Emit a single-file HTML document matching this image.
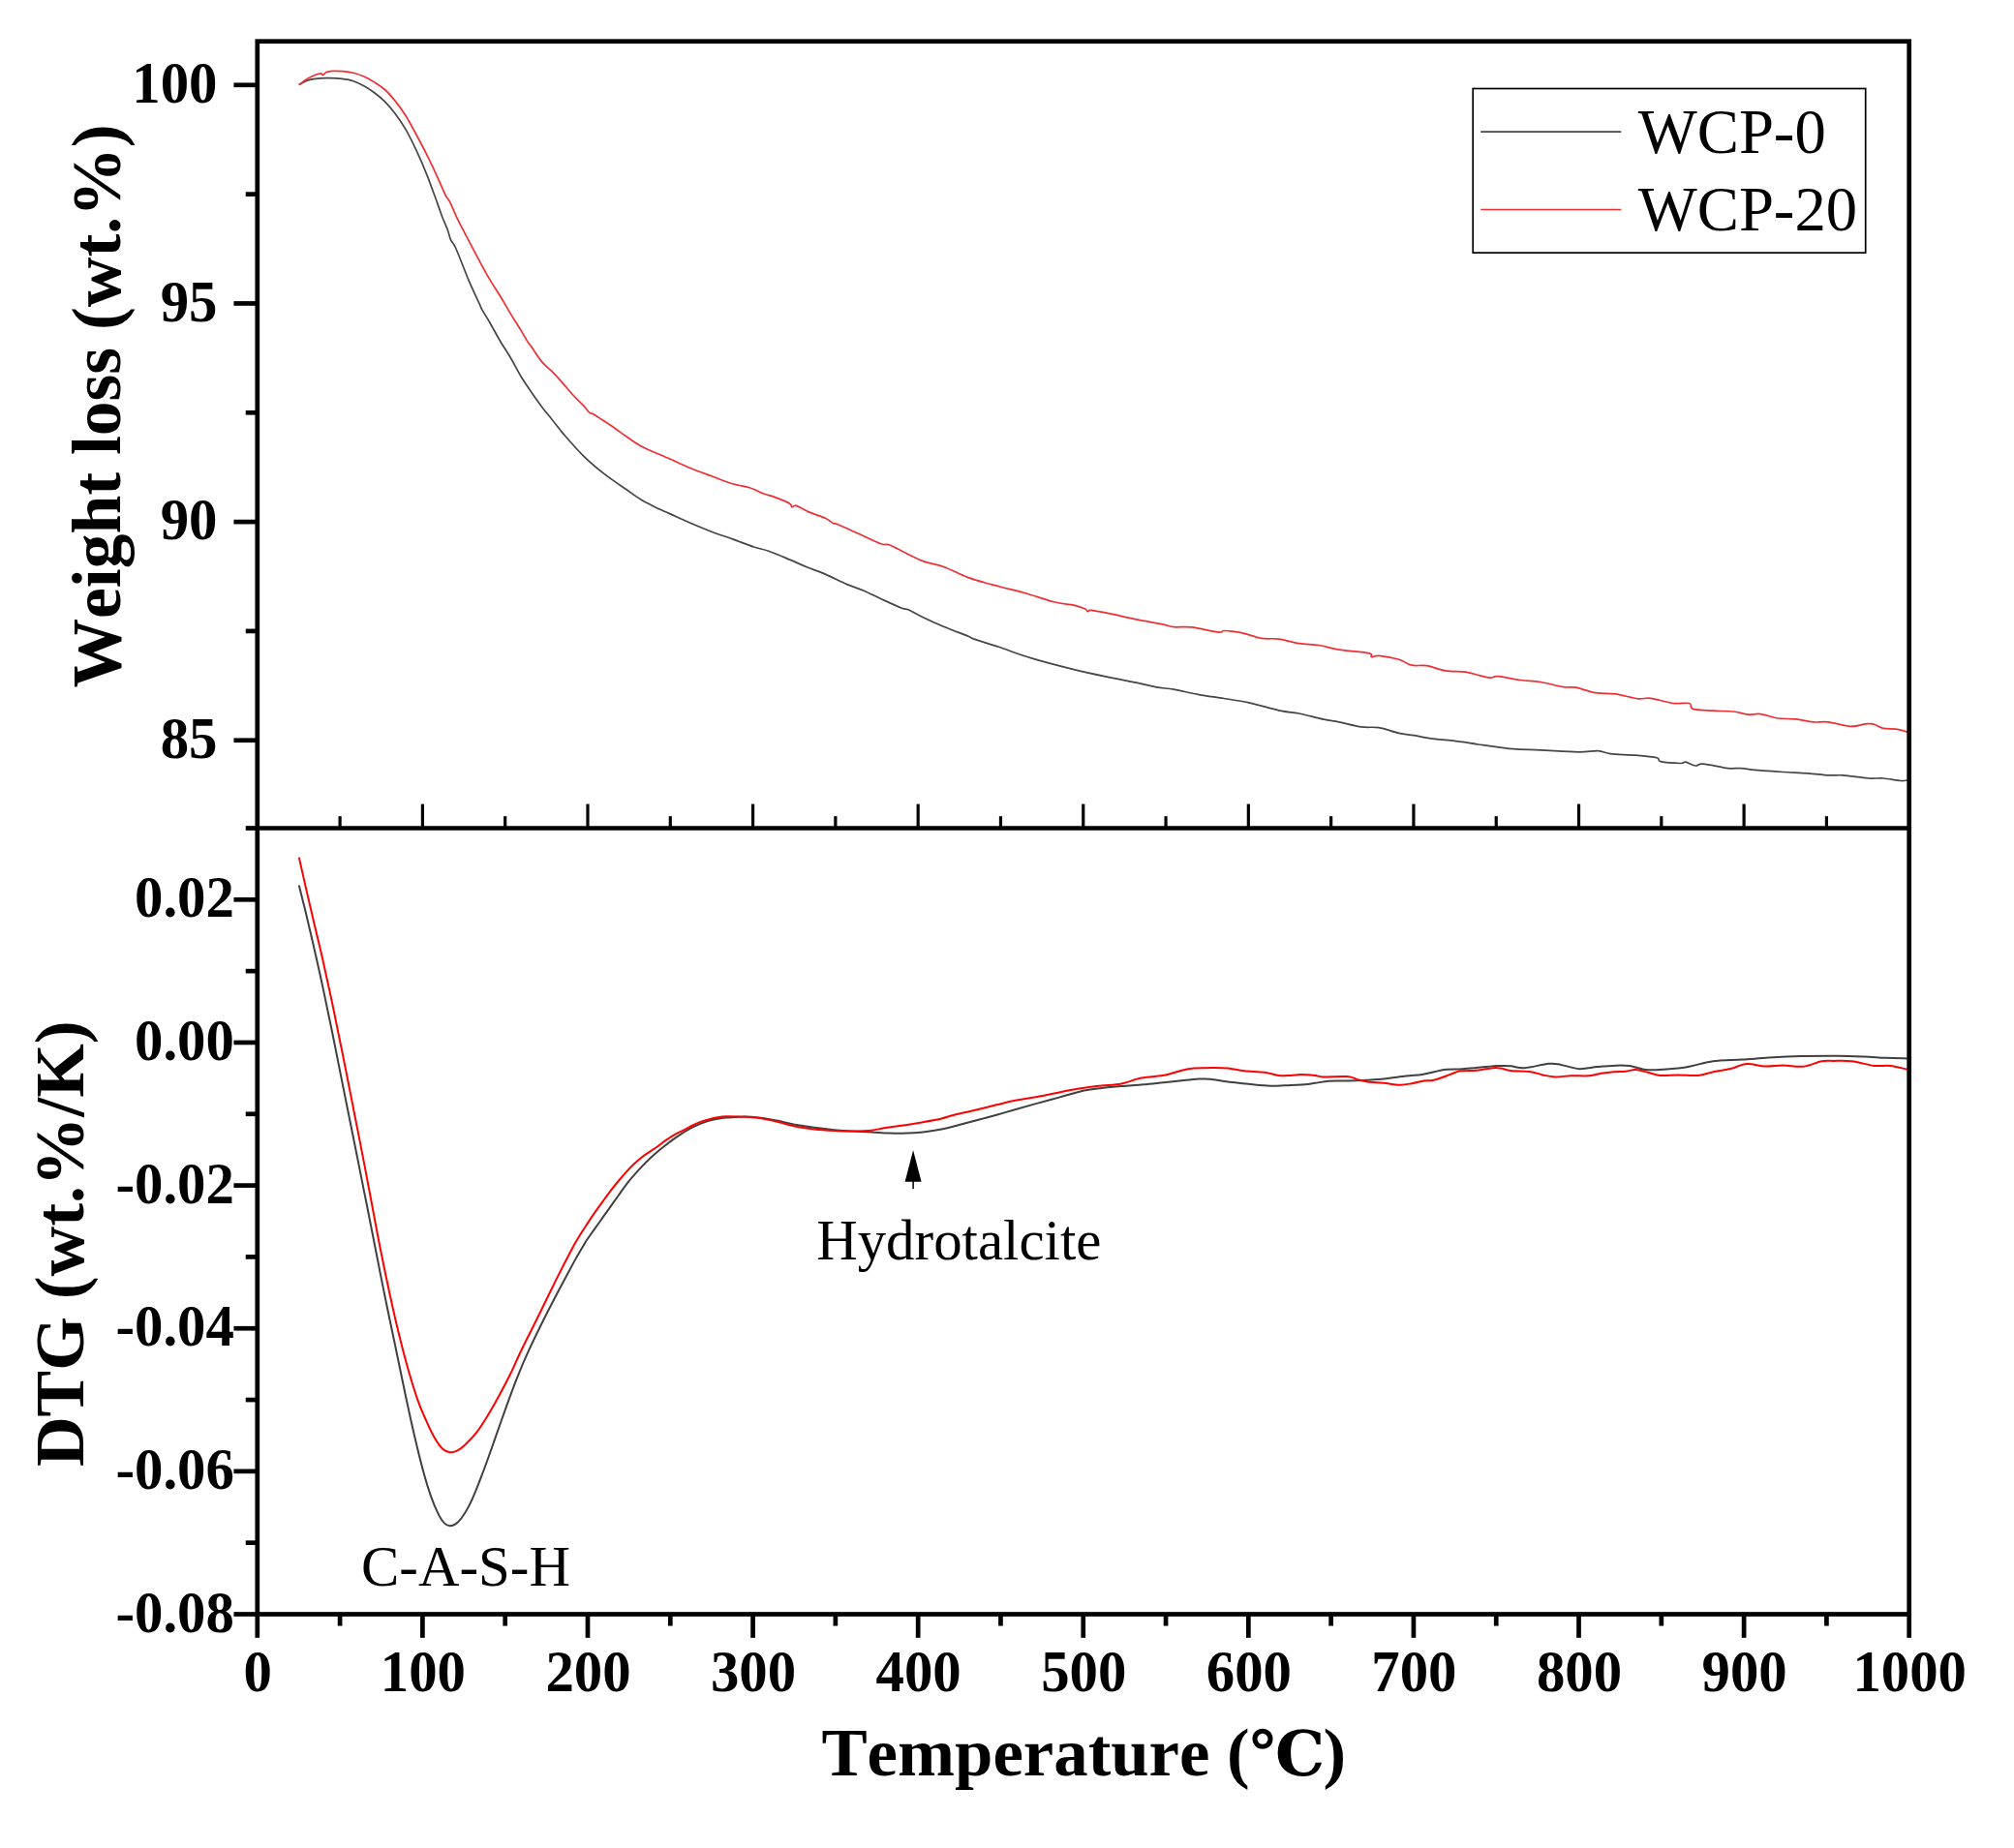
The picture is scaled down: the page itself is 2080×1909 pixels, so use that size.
<!DOCTYPE html>
<html lang="en">
<head>
<meta charset="utf-8">
<title>TG / DTG curves of WCP-0 and WCP-20</title>
<style>
html,body{margin:0;padding:0;background:#fff;}
body{width:2080px;height:1909px;overflow:hidden;font-family:"Liberation Serif",serif;}
svg{display:block;}
svg text{font-kerning:none;font-variant-ligatures:none;white-space:pre;}
</style>
</head>
<body>
<svg width="2080" height="1909" viewBox="0 0 2080 1909" role="img" aria-label="TG (weight loss) and DTG curves of WCP-0 and WCP-20 versus temperature">
<rect x="0" y="0" width="2080" height="1909" fill="#fff"/>
<g id="curves">
<path d="M308.7,87.5C310.13,86.78 314.42,84.22 317.3,83.2C320.18,82.18 322.75,81.83 326,81.4C329.25,80.97 333.2,80.7 336.8,80.6C340.4,80.5 344,80.55 347.6,80.8C351.2,81.05 355.52,81.6 358.4,82.1C361.28,82.6 362,82.68 364.9,83.8C367.8,84.92 372.18,86.82 375.8,88.8C379.42,90.78 383,93.03 386.6,95.7C390.2,98.37 393.8,101.18 397.4,104.8C401,108.42 404.6,112.6 408.2,117.4C411.8,122.2 415.38,127.3 419,133.6C422.62,139.9 426.28,147.45 429.9,155.2C433.52,162.95 437.1,171.07 440.7,180.1C444.3,189.13 448.8,202 451.5,209.4C454.2,216.8 455.1,219.82 456.9,224.5C458.7,229.18 460.85,233.6 462.3,237.5C463.75,241.4 464.15,244.65 465.6,247.9C467.05,251.15 467.93,250.08 471,257C474.07,263.92 480.03,280.03 484,289.4C487.97,298.77 492.45,308.03 494.8,313.2C497.15,318.37 496.3,317.15 498.1,320.4C499.9,323.65 502.53,327.4 505.6,332.7C508.67,338 512.88,346.07 516.5,352.2C520.12,358.33 523.7,363.37 527.3,369.5C530.9,375.63 534.5,383.05 538.1,389C541.7,394.95 545.3,399.97 548.9,405.2C552.5,410.43 556.08,415.6 559.7,420.4C563.32,425.2 566.92,429.38 570.6,434C574.28,438.62 576.28,441.75 581.8,448.1C587.32,454.45 596.42,465 603.7,472.1C610.98,479.2 618.22,485.05 625.5,490.7C632.78,496.35 641.2,501.7 647.4,506C653.6,510.3 657.23,513.23 662.7,516.5C668.17,519.77 675.47,523.28 680.2,525.6C684.93,527.92 685.65,527.95 691.1,530.4C696.55,532.85 705.62,537.17 712.9,540.3C720.18,543.43 727.52,546.43 734.8,549.2C742.08,551.97 749.32,554.27 756.6,556.9C763.88,559.53 772.3,562.93 778.5,565C784.7,567.07 787.62,567.12 793.8,569.3C799.98,571.48 809.05,575.37 815.6,578.1C822.15,580.83 826.9,583.15 833.1,585.7C839.3,588.25 845.88,590.42 852.8,593.4C859.72,596.38 868.05,600.8 874.6,603.6C881.15,606.4 886.27,607.72 892.1,610.2C897.93,612.68 903.05,615.48 909.6,618.5C916.15,621.52 926.67,626.42 931.4,628.3C936.13,630.18 934.35,628.23 938,629.8C941.65,631.37 947.12,634.75 953.3,637.7C959.48,640.65 967.32,644.25 975.1,647.5C982.88,650.75 994.88,655.1 1000,657.2C1005.12,659.3 1000.53,658.25 1005.8,660.1C1011.07,661.95 1021.7,665 1031.6,668.3C1041.5,671.6 1052.28,676.02 1065.2,679.9C1078.12,683.78 1095.33,688.23 1109.1,691.6C1122.87,694.97 1137.05,697.83 1147.8,700.1C1158.55,702.37 1165.85,703.57 1173.6,705.2C1181.35,706.83 1187.83,708.73 1194.3,709.9C1200.77,711.07 1205.08,710.92 1212.4,712.2C1219.72,713.48 1229.6,716.05 1238.2,717.6C1246.8,719.15 1255.4,720.12 1264,721.5C1272.6,722.88 1279.9,723.75 1289.8,725.9C1299.7,728.05 1314.78,732.55 1323.4,734.4C1332.02,736.25 1334.18,735.53 1341.5,737C1348.82,738.47 1360.42,741.73 1367.3,743.2C1374.18,744.67 1376.35,744.52 1382.8,745.8C1389.25,747.08 1399.12,749.92 1406,750.9C1412.88,751.88 1417.63,750.62 1424.1,751.7C1430.57,752.78 1438.77,756.07 1444.8,757.4C1450.83,758.73 1454.43,758.73 1460.3,759.7C1466.17,760.67 1473.27,762.28 1480,763.2C1486.73,764.12 1492.1,764.13 1500.7,765.2C1509.3,766.27 1521.28,768.18 1531.6,769.6C1541.92,771.02 1552.7,772.83 1562.6,773.7C1572.5,774.57 1579.8,774.28 1591,774.8C1602.2,775.32 1619.9,776.67 1629.8,776.8C1639.7,776.93 1644.82,775.28 1650.4,775.6C1655.98,775.92 1656.85,777.93 1663.3,778.7C1669.75,779.47 1681.13,779.52 1689.1,780.2C1697.07,780.88 1706.78,781.72 1711.1,782.8C1715.42,783.88 1710.92,785.75 1715,786.7C1719.08,787.65 1731.3,788.42 1735.6,788.5C1739.9,788.58 1738.22,786.78 1740.8,787.2C1743.38,787.62 1748.08,790.67 1751.1,791C1754.12,791.33 1753.3,788.77 1758.9,789.2C1764.5,789.63 1778.25,792.87 1784.7,793.6C1791.15,794.33 1792.43,793.25 1797.6,793.6C1802.77,793.95 1808.38,795.05 1815.7,795.7C1823.02,796.35 1832.9,796.98 1841.5,797.5C1850.1,798.02 1859.57,798.23 1867.3,798.8C1875.03,799.37 1881.88,800.55 1887.9,800.9C1893.92,801.25 1896.5,800.38 1903.4,800.9C1910.3,801.42 1922.4,803.48 1929.3,804C1936.2,804.52 1939.22,803.58 1944.8,804C1950.38,804.42 1958.5,806.2 1962.8,806.5C1967.1,806.8 1969.3,805.92 1970.6,805.8" fill="none" stroke="#464646" stroke-width="1.7" stroke-linejoin="round" stroke-linecap="butt"/>
<path d="M308.7,87.5C310.13,86.52 314.42,83.3 317.3,81.6C320.18,79.9 323.65,78.27 326,77.3C328.35,76.33 330.15,75.73 331.4,75.8C332.65,75.87 332.6,77.88 333.5,77.7C334.4,77.52 335.17,75.42 336.8,74.7C338.43,73.98 340.42,73.58 343.3,73.4C346.18,73.22 350.5,73.3 354.1,73.6C357.7,73.9 361.28,74.3 364.9,75.2C368.52,76.1 372.18,77.38 375.8,79C379.42,80.62 383,82.65 386.6,84.9C390.2,87.15 393.8,89.25 397.4,92.5C401,95.75 404.6,99.9 408.2,104.4C411.8,108.9 415.38,113.73 419,119.5C422.62,125.27 426.28,132.32 429.9,139C433.52,145.68 437.1,152.38 440.7,159.6C444.3,166.82 448.25,175.27 451.5,182.3C454.75,189.33 458.03,197.47 460.2,201.8C462.37,206.13 462.33,203.98 464.5,208.3C466.67,212.62 469.95,221.03 473.2,227.7C476.45,234.37 480.4,241.43 484,248.3C487.6,255.17 491.2,262.22 494.8,268.9C498.4,275.58 501.98,282.27 505.6,288.4C509.22,294.53 512.88,299.75 516.5,305.7C520.12,311.65 523.7,318.15 527.3,324.1C530.9,330.05 535.22,336.65 538.1,341.4C540.98,346.15 542.8,349.78 544.6,352.6C546.4,355.42 546.38,354.75 548.9,358.3C551.42,361.85 556.08,369.58 559.7,373.9C563.32,378.22 566.98,380.5 570.6,384.2C574.22,387.9 577.8,392.05 581.4,396.1C585,400.15 588.6,404.63 592.2,408.5C595.8,412.37 600.3,416.42 603,419.3C605.7,422.18 606.58,424.28 608.4,425.8C610.22,427.32 611.18,426.78 613.9,428.4C616.62,430.02 621.1,433.12 624.7,435.5C628.3,437.88 631.72,440.07 635.5,442.7C639.28,445.33 642.87,448.22 647.4,451.3C651.93,454.38 655.42,457.45 662.7,461.2C669.98,464.95 682.73,470.08 691.1,473.8C699.47,477.52 705.62,480.5 712.9,483.5C720.18,486.5 727.52,489.08 734.8,491.8C742.08,494.52 750.05,497.8 756.6,499.8C763.15,501.8 768.63,502.05 774.1,503.8C779.57,505.55 785.03,508.67 789.4,510.3C793.77,511.93 795.93,511.95 800.3,513.6C804.67,515.25 812.68,518.48 815.6,520.2C818.52,521.92 816.7,523.53 817.8,523.9C818.9,524.27 819.28,521.57 822.2,522.4C825.12,523.23 830.2,526.72 835.3,528.9C840.4,531.08 848.62,533.57 852.8,535.5C856.98,537.43 858.22,539.42 860.4,540.5C862.58,541.58 861.35,540.12 865.9,542C870.45,543.88 880.42,548.52 887.7,551.8C894.98,555.08 904.5,559.87 909.6,561.7C914.7,563.53 914.67,561.53 918.3,562.8C921.93,564.07 925.57,566.5 931.4,569.3C937.23,572.1 946.02,576.87 953.3,579.6C960.58,582.33 967.32,582.87 975.1,585.7C982.88,588.53 990.58,593.25 1000,596.6C1009.42,599.95 1022.02,603.18 1031.6,605.8C1041.18,608.42 1048.03,609.63 1057.5,612.3C1066.97,614.97 1079.8,619.65 1088.4,621.8C1097,623.95 1103.72,623.98 1109.1,625.2C1114.48,626.42 1118.33,628.02 1120.7,629.1C1123.07,630.18 1122.22,631.48 1123.3,631.7C1124.38,631.92 1123.12,629.98 1127.2,630.4C1131.28,630.82 1140.07,632.62 1147.8,634.2C1155.53,635.78 1164.98,638.17 1173.6,639.9C1182.22,641.63 1193.03,643.3 1199.5,644.6C1205.97,645.9 1207.23,647.15 1212.4,647.7C1217.57,648.25 1222.75,647 1230.5,647.9C1238.25,648.8 1253.32,652.5 1258.9,653.1C1264.48,653.7 1260.13,651.42 1264,651.5C1267.87,651.58 1275.65,652.3 1282.1,653.6C1288.55,654.9 1296.25,658.22 1302.7,659.3C1309.15,660.38 1314.33,659.2 1320.8,660.1C1327.27,661 1334.62,663.63 1341.5,664.7C1348.38,665.77 1355.22,665.42 1362.1,666.5C1368.98,667.58 1374.18,669.82 1382.8,671.2C1391.42,672.58 1408.2,673.55 1413.8,674.8C1419.4,676.05 1414.68,678.27 1416.4,678.7C1418.12,679.13 1419.37,676.98 1424.1,677.4C1428.83,677.82 1439.2,679.57 1444.8,681.2C1450.4,682.83 1452.97,686.12 1457.7,687.2C1462.43,688.28 1467.33,686.75 1473.2,687.7C1479.07,688.65 1486.17,691.82 1492.9,692.9C1499.63,693.98 1507.57,693.33 1513.6,694.2C1519.63,695.07 1524.8,697.1 1529.1,698.1C1533.4,699.1 1536.4,700.12 1539.4,700.2C1542.4,700.28 1541.93,698.22 1547.1,698.6C1552.27,698.98 1563.08,701.52 1570.4,702.5C1577.72,703.48 1583.68,703.3 1591,704.5C1598.32,705.7 1608.27,708.75 1614.3,709.7C1620.33,710.65 1621.62,709.2 1627.2,710.2C1632.78,711.2 1640.92,714.58 1647.8,715.7C1654.68,716.82 1661.18,715.88 1668.5,716.9C1675.82,717.92 1685.68,721.07 1691.7,721.8C1697.72,722.53 1698.57,720.52 1704.6,721.3C1710.63,722.08 1721.22,725.63 1727.9,726.5C1734.58,727.37 1741.27,725.52 1744.7,726.5C1748.13,727.48 1744.42,731.12 1748.5,732.4C1752.58,733.68 1762.32,733.77 1769.2,734.2C1776.08,734.63 1783.78,734.35 1789.8,735C1795.82,735.65 1800.57,737.67 1805.3,738.1C1810.03,738.53 1813.03,736.95 1818.2,737.6C1823.37,738.25 1830.27,741.13 1836.3,742C1842.33,742.87 1848.37,742.15 1854.4,742.8C1860.43,743.45 1866.92,745.38 1872.5,745.9C1878.08,746.42 1881.45,745.17 1887.9,745.9C1894.35,746.63 1904.73,749.97 1911.2,750.3C1917.67,750.63 1922.83,748.3 1926.7,747.9C1930.57,747.5 1931.38,747.17 1934.4,747.9C1937.42,748.63 1940.92,751.43 1944.8,752.3C1948.68,753.17 1953.4,752.45 1957.7,753.1C1962,753.75 1968.45,755.68 1970.6,756.2" fill="none" stroke="#ee3035" stroke-width="1.7" stroke-linejoin="round" stroke-linecap="butt"/>
<path d="M308.8,914.4C310,919.27 313.37,932.6 316,943.6C318.63,954.6 321.72,967.77 324.6,980.4C327.48,993.03 330.05,1004.25 333.3,1019.4C336.55,1034.55 340.5,1053.63 344.1,1071.3C347.7,1088.97 351.28,1107.37 354.9,1125.4C358.52,1143.43 362.18,1161.47 365.8,1179.5C369.42,1197.53 374.25,1221.85 376.6,1233.6C378.95,1245.35 377.88,1239.8 379.9,1250C381.92,1260.2 385.62,1279.22 388.7,1294.8C391.78,1310.38 395.15,1327.58 398.4,1343.5C401.65,1359.42 404.95,1374.72 408.2,1390.3C411.45,1405.88 414.65,1421.75 417.9,1437C421.15,1452.25 424.45,1467.83 427.7,1481.8C430.95,1495.77 434.48,1510.08 437.4,1520.8C440.32,1531.52 442.6,1538.8 445.2,1546.1C447.8,1553.4 450.73,1560.05 453,1564.6C455.27,1569.15 456.85,1571.45 458.8,1573.4C460.75,1575.35 462.75,1576.13 464.7,1576.3C466.65,1576.47 468.55,1575.7 470.5,1574.4C472.45,1573.1 474.12,1571.58 476.4,1568.5C478.68,1565.42 481.6,1560.93 484.2,1555.9C486.8,1550.87 489.08,1545.45 492,1538.3C494.92,1531.15 498.47,1521.77 501.7,1513C504.93,1504.23 507.83,1495.77 511.4,1485.7C514.97,1475.63 519.2,1463.32 523.1,1452.6C527,1441.88 530.9,1431.13 534.8,1421.4C538.7,1411.67 541.95,1404.1 546.5,1394.2C551.05,1384.3 556.9,1372.4 562.1,1362C567.3,1351.6 572.5,1341.7 577.7,1331.8C582.9,1321.9 589.48,1309.57 593.3,1302.6C597.12,1295.63 598.45,1293.63 600.6,1290C602.75,1286.37 603.9,1284.28 606.2,1280.8C608.5,1277.32 611.68,1272.95 614.4,1269.1C617.12,1265.25 619.8,1261.5 622.5,1257.7C625.2,1253.9 627.9,1250.08 630.6,1246.3C633.3,1242.52 636,1238.78 638.7,1235C641.4,1231.22 644.1,1227.12 646.8,1223.6C649.5,1220.08 652.18,1217.02 654.9,1213.9C657.62,1210.78 660.38,1207.75 663.1,1204.9C665.82,1202.05 668.5,1199.37 671.2,1196.8C673.9,1194.23 676.6,1191.8 679.3,1189.5C682,1187.2 684.7,1185.1 687.4,1183C690.1,1180.9 692.8,1178.85 695.5,1176.9C698.2,1174.95 700.88,1173.05 703.6,1171.3C706.32,1169.55 709.08,1167.9 711.8,1166.4C714.52,1164.9 717.2,1163.52 719.9,1162.3C722.6,1161.08 725.3,1160.02 728,1159.1C730.7,1158.18 733.4,1157.43 736.1,1156.8C738.8,1156.17 741.88,1155.67 744.2,1155.3C746.52,1154.93 745.97,1154.9 750,1154.6C754.03,1154.3 762.75,1153.52 768.4,1153.5C774.05,1153.48 778.3,1153.82 783.9,1154.5C789.5,1155.18 795.53,1156.35 802,1157.6C808.47,1158.85 816.25,1160.8 822.7,1162C829.15,1163.2 834.25,1163.93 840.7,1164.8C847.15,1165.67 854.93,1166.6 861.4,1167.2C867.87,1167.8 873.05,1168.02 879.5,1168.4C885.95,1168.78 893.65,1169.15 900.1,1169.5C906.55,1169.85 913.03,1170.28 918.2,1170.5C923.37,1170.72 926.8,1170.83 931.1,1170.8C935.4,1170.77 939.7,1170.6 944,1170.3C948.3,1170 952.17,1169.65 956.9,1169C961.63,1168.35 966.8,1167.57 972.4,1166.4C978,1165.23 984.47,1163.52 990.5,1162C996.53,1160.48 1002.15,1159.02 1008.6,1157.3C1015.05,1155.58 1022.75,1153.5 1029.2,1151.7C1035.65,1149.9 1040.83,1148.35 1047.3,1146.5C1053.77,1144.65 1060.25,1142.75 1068,1140.6C1075.75,1138.45 1085.2,1135.93 1093.8,1133.6C1102.4,1131.27 1112.28,1128.2 1119.6,1126.6C1126.92,1125 1131.25,1124.77 1137.7,1124C1144.15,1123.23 1151.1,1122.62 1158.3,1122C1165.5,1121.38 1173.67,1120.93 1180.9,1120.3C1188.13,1119.67 1194.75,1118.9 1201.7,1118.2C1208.65,1117.5 1216.35,1116.72 1222.6,1116.1C1228.85,1115.48 1234.68,1114.73 1239.2,1114.5C1243.72,1114.27 1244.83,1114.18 1249.7,1114.7C1254.57,1115.22 1261.8,1116.77 1268.4,1117.6C1275,1118.43 1283.03,1119.08 1289.3,1119.7C1295.57,1120.32 1301.48,1120.95 1306,1121.3C1310.52,1121.65 1311.88,1121.87 1316.4,1121.8C1320.92,1121.73 1327.88,1121.15 1333.1,1120.9C1338.32,1120.65 1343.53,1120.65 1347.7,1120.3C1351.87,1119.95 1353.93,1119.4 1358.1,1118.8C1362.27,1118.2 1367.48,1117.08 1372.7,1116.7C1377.92,1116.32 1383.83,1116.6 1389.4,1116.5C1394.97,1116.4 1399.5,1116.43 1406.1,1116.1C1412.7,1115.77 1421.35,1115.27 1429,1114.5C1436.65,1113.73 1445.38,1112.27 1452,1111.5C1458.62,1110.73 1463.83,1110.62 1468.7,1109.9C1473.57,1109.18 1477.03,1108.07 1481.2,1107.2C1485.37,1106.33 1488.83,1105.2 1493.7,1104.7C1498.57,1104.2 1504.5,1104.55 1510.4,1104.2C1516.3,1103.85 1522.85,1103.12 1529.1,1102.6C1535.35,1102.08 1542.68,1101.32 1547.9,1101.1C1553.12,1100.88 1555.95,1100.95 1560.4,1101.3C1564.85,1101.65 1568.07,1103.62 1574.6,1103.2C1581.13,1102.78 1593.35,1099.35 1599.6,1098.8C1605.85,1098.25 1606.88,1099 1612.1,1099.9C1617.32,1100.8 1624.63,1103.83 1630.9,1104.2C1637.17,1104.57 1643.45,1102.68 1649.7,1102.1C1655.95,1101.52 1662.85,1100.87 1668.4,1100.7C1673.95,1100.53 1678.13,1100.43 1683,1101.1C1687.87,1101.77 1693.07,1104 1697.6,1104.7C1702.13,1105.4 1704.28,1105.48 1710.2,1105.3C1716.12,1105.12 1726.85,1104.3 1733.1,1103.6C1739.35,1102.9 1742.83,1102.13 1747.7,1101.1C1752.57,1100.07 1757.43,1098.33 1762.3,1097.4C1767.17,1096.47 1770.65,1095.97 1776.9,1095.5C1783.15,1095.03 1791.47,1095.08 1799.8,1094.6C1808.13,1094.12 1816.82,1093.18 1826.9,1092.6C1836.98,1092.02 1848.47,1091.42 1860.3,1091.1C1872.13,1090.78 1887.12,1090.63 1897.9,1090.7C1908.68,1090.77 1916.67,1091.15 1925,1091.5C1933.33,1091.85 1940.43,1092.48 1947.9,1092.8C1955.37,1093.12 1966.15,1093.3 1969.8,1093.4" fill="none" stroke="#404040" stroke-width="2.0" stroke-linejoin="round" stroke-linecap="butt"/>
<path d="M308.8,885.6C310,890.93 313.37,906.13 316,917.6C318.63,929.07 321.72,942.13 324.6,954.4C327.48,966.67 330.05,976.77 333.3,991.2C336.55,1005.63 340.5,1023.87 344.1,1041C347.7,1058.13 351.28,1075.97 354.9,1094C358.52,1112.03 362.18,1130.8 365.8,1149.2C369.42,1167.6 373.37,1187.6 376.6,1204.4C379.83,1221.2 382.53,1235.9 385.2,1250C387.87,1264.1 389.75,1274.72 392.6,1289C395.45,1303.28 399.05,1320.77 402.3,1335.7C405.55,1350.63 408.85,1365.28 412.1,1378.6C415.35,1391.92 418.55,1404.23 421.8,1415.6C425.05,1426.97 428.35,1437.72 431.6,1446.8C434.85,1455.88 438.38,1463.62 441.3,1470.1C444.22,1476.58 446.5,1481.32 449.1,1485.7C451.7,1490.08 454.3,1493.97 456.9,1496.4C459.5,1498.83 462.1,1499.97 464.7,1500.3C467.3,1500.63 469.9,1499.7 472.5,1498.4C475.1,1497.1 477.05,1495.58 480.3,1492.5C483.55,1489.42 488.12,1484.92 492,1479.9C495.88,1474.88 499.72,1468.73 503.6,1462.4C507.48,1456.07 511.4,1449.05 515.3,1441.9C519.2,1434.75 523.1,1427.45 527,1419.5C530.9,1411.55 534.15,1403.62 538.7,1394.2C543.25,1384.78 548.45,1374.85 554.3,1363C560.15,1351.15 567.72,1335.27 573.8,1323.1C579.88,1310.93 586.75,1297.65 590.8,1290C594.85,1282.35 595.53,1281.43 598.1,1277.2C600.67,1272.97 603.48,1268.73 606.2,1264.6C608.92,1260.47 611.68,1256.32 614.4,1252.4C617.12,1248.48 619.8,1244.82 622.5,1241.1C625.2,1237.38 627.9,1233.62 630.6,1230.1C633.3,1226.58 636,1223.25 638.7,1220C641.4,1216.75 644.1,1213.55 646.8,1210.6C649.5,1207.65 652.18,1204.87 654.9,1202.3C657.62,1199.73 660.38,1197.3 663.1,1195.2C665.82,1193.1 668.5,1191.53 671.2,1189.7C673.9,1187.87 676.6,1186.13 679.3,1184.2C682,1182.27 684.7,1179.98 687.4,1178.1C690.1,1176.22 692.8,1174.48 695.5,1172.9C698.2,1171.32 700.88,1170.02 703.6,1168.6C706.32,1167.18 709.08,1165.78 711.8,1164.4C714.52,1163.02 717.2,1161.45 719.9,1160.3C722.6,1159.15 725.3,1158.35 728,1157.5C730.7,1156.65 733.4,1155.82 736.1,1155.2C738.8,1154.58 741.88,1154.13 744.2,1153.8C746.52,1153.47 745.97,1153.22 750,1153.2C754.03,1153.18 762.75,1153.4 768.4,1153.7C774.05,1154 778.3,1154.18 783.9,1155C789.5,1155.82 795.53,1157.13 802,1158.6C808.47,1160.07 816.25,1162.5 822.7,1163.8C829.15,1165.1 834.25,1165.72 840.7,1166.4C847.15,1167.08 854.93,1167.57 861.4,1167.9C867.87,1168.23 873.05,1168.43 879.5,1168.4C885.95,1168.37 894.52,1168.22 900.1,1167.7C905.68,1167.18 907.83,1166.12 913,1165.3C918.17,1164.48 924.63,1163.78 931.1,1162.8C937.57,1161.82 944.92,1160.62 951.8,1159.4C958.68,1158.18 966.82,1156.78 972.4,1155.5C977.98,1154.22 979.7,1153.12 985.3,1151.7C990.9,1150.28 998.68,1148.73 1006,1147C1013.32,1145.27 1022.32,1142.98 1029.2,1141.3C1036.08,1139.62 1040.83,1138.18 1047.3,1136.9C1053.77,1135.62 1060.25,1135.02 1068,1133.6C1075.75,1132.18 1085.2,1130.03 1093.8,1128.4C1102.4,1126.77 1112.28,1124.95 1119.6,1123.8C1126.92,1122.65 1131.25,1122.23 1137.7,1121.5C1144.15,1120.77 1151.45,1120.72 1158.3,1119.4C1165.15,1118.08 1171.22,1115.08 1178.8,1113.6C1186.38,1112.12 1196.85,1111.82 1203.8,1110.5C1210.75,1109.18 1215.63,1106.85 1220.5,1105.7C1225.37,1104.55 1227.45,1104.05 1233,1103.6C1238.55,1103.15 1247.9,1103 1253.8,1103C1259.7,1103 1263.18,1103.05 1268.4,1103.6C1273.62,1104.15 1278.83,1105.6 1285.1,1106.3C1291.37,1107 1300.08,1107.03 1306,1107.8C1311.92,1108.57 1316.08,1110.38 1320.6,1110.9C1325.12,1111.42 1329.28,1111.07 1333.1,1110.9C1336.92,1110.73 1339.33,1109.9 1343.5,1109.9C1347.67,1109.9 1354.27,1110.48 1358.1,1110.9C1361.93,1111.32 1360.93,1112.22 1366.5,1112.4C1372.07,1112.58 1385.6,1111.55 1391.5,1112C1397.4,1112.45 1398.43,1114.17 1401.9,1115.1C1405.37,1116.03 1407.78,1116.98 1412.3,1117.6C1416.82,1118.22 1423.43,1118.28 1429,1118.8C1434.57,1119.32 1440.83,1120.63 1445.7,1120.7C1450.57,1120.77 1454.03,1119.9 1458.2,1119.2C1462.37,1118.5 1467.22,1117.02 1470.7,1116.5C1474.18,1115.98 1475.97,1116.68 1479.1,1116.1C1482.23,1115.52 1486.38,1114.03 1489.5,1113C1492.62,1111.97 1494.67,1111.02 1497.8,1109.9C1500.93,1108.78 1503.77,1107 1508.3,1106.3C1512.83,1105.6 1519.43,1106.22 1525,1105.7C1530.57,1105.18 1537.53,1103.55 1541.7,1103.2C1545.87,1102.85 1546.88,1103.12 1550,1103.6C1553.12,1104.08 1555.25,1105.5 1560.4,1106.1C1565.55,1106.7 1575.4,1106.47 1580.9,1107.2C1586.4,1107.93 1589.23,1109.63 1593.4,1110.5C1597.57,1111.37 1601.03,1112.27 1605.9,1112.4C1610.77,1112.53 1616.7,1111.48 1622.6,1111.3C1628.5,1111.12 1636.1,1111.72 1641.3,1111.3C1646.5,1110.88 1649.62,1109.48 1653.8,1108.8C1657.98,1108.12 1662.22,1107.55 1666.4,1107.2C1670.58,1106.85 1675.08,1107.05 1678.9,1106.7C1682.72,1106.35 1685.48,1104.92 1689.3,1105.1C1693.12,1105.28 1697.63,1106.83 1701.8,1107.8C1705.97,1108.77 1709.08,1110.45 1714.3,1110.9C1719.52,1111.35 1726.48,1110.5 1733.1,1110.5C1739.72,1110.5 1748.08,1111.42 1754,1110.9C1759.92,1110.38 1763.05,1108.55 1768.6,1107.4C1774.15,1106.25 1781.4,1105.4 1787.3,1104C1793.2,1102.6 1798.08,1099.42 1804,1099C1809.92,1098.58 1816.53,1101.25 1822.8,1101.5C1829.07,1101.75 1835,1100.47 1841.6,1100.5C1848.2,1100.53 1855.8,1102.4 1862.4,1101.7C1869,1101 1875.98,1097.27 1881.2,1096.3C1886.42,1095.33 1888.48,1095.9 1893.7,1095.9C1898.92,1095.9 1905.55,1095.47 1912.5,1096.3C1919.45,1097.13 1928.8,1100.13 1935.4,1100.9C1942,1101.67 1946.37,1100.27 1952.1,1100.9C1957.83,1101.53 1966.85,1104.07 1969.8,1104.7" fill="none" stroke="#ff0000" stroke-width="2.0" stroke-linejoin="round" stroke-linecap="butt"/>
</g>
<g id="axes" stroke="#000" stroke-width="4.7" fill="none" stroke-linecap="butt">
<rect x="265.8" y="42.7" width="1705.9" height="1624.8"/>
<line x1="265.8" y1="855.5" x2="1971.7" y2="855.5"/>
<line x1="241.45" y1="87.8" x2="265.8" y2="87.8"/>
<line x1="241.45" y1="313.45" x2="265.8" y2="313.45"/>
<line x1="241.45" y1="539.1" x2="265.8" y2="539.1"/>
<line x1="241.45" y1="764.75" x2="265.8" y2="764.75"/>
<line x1="253.75" y1="200.62" x2="265.8" y2="200.62"/>
<line x1="253.75" y1="426.28" x2="265.8" y2="426.28"/>
<line x1="253.75" y1="651.92" x2="265.8" y2="651.92"/>
<line x1="241.45" y1="929.32" x2="265.8" y2="929.32"/>
<line x1="241.45" y1="1076.95" x2="265.8" y2="1076.95"/>
<line x1="241.45" y1="1224.59" x2="265.8" y2="1224.59"/>
<line x1="241.45" y1="1372.23" x2="265.8" y2="1372.23"/>
<line x1="241.45" y1="1519.86" x2="265.8" y2="1519.86"/>
<line x1="241.45" y1="1667.5" x2="265.8" y2="1667.5"/>
<line x1="253.75" y1="855.5" x2="265.8" y2="855.5"/>
<line x1="253.75" y1="1003.14" x2="265.8" y2="1003.14"/>
<line x1="253.75" y1="1150.77" x2="265.8" y2="1150.77"/>
<line x1="253.75" y1="1298.41" x2="265.8" y2="1298.41"/>
<line x1="253.75" y1="1446.05" x2="265.8" y2="1446.05"/>
<line x1="253.75" y1="1593.68" x2="265.8" y2="1593.68"/>
<line x1="265.8" y1="1667.5" x2="265.8" y2="1691.85"/>
<line x1="351.1" y1="1667.5" x2="351.1" y2="1679.55"/>
<line x1="436.39" y1="1667.5" x2="436.39" y2="1691.85"/>
<line x1="521.69" y1="1667.5" x2="521.69" y2="1679.55"/>
<line x1="606.98" y1="1667.5" x2="606.98" y2="1691.85"/>
<line x1="692.28" y1="1667.5" x2="692.28" y2="1679.55"/>
<line x1="777.57" y1="1667.5" x2="777.57" y2="1691.85"/>
<line x1="862.87" y1="1667.5" x2="862.87" y2="1679.55"/>
<line x1="948.16" y1="1667.5" x2="948.16" y2="1691.85"/>
<line x1="1033.46" y1="1667.5" x2="1033.46" y2="1679.55"/>
<line x1="1118.75" y1="1667.5" x2="1118.75" y2="1691.85"/>
<line x1="1204.05" y1="1667.5" x2="1204.05" y2="1679.55"/>
<line x1="1289.34" y1="1667.5" x2="1289.34" y2="1691.85"/>
<line x1="1374.63" y1="1667.5" x2="1374.63" y2="1679.55"/>
<line x1="1459.93" y1="1667.5" x2="1459.93" y2="1691.85"/>
<line x1="1545.23" y1="1667.5" x2="1545.23" y2="1679.55"/>
<line x1="1630.52" y1="1667.5" x2="1630.52" y2="1691.85"/>
<line x1="1715.82" y1="1667.5" x2="1715.82" y2="1679.55"/>
<line x1="1801.11" y1="1667.5" x2="1801.11" y2="1691.85"/>
<line x1="1886.41" y1="1667.5" x2="1886.41" y2="1679.55"/>
<line x1="1971.7" y1="1667.5" x2="1971.7" y2="1691.85"/>
</g>
<g id="midticks" stroke="#000" stroke-width="3.2" fill="none">
<line x1="351.1" y1="855.5" x2="351.1" y2="843.15"/>
<line x1="436.39" y1="855.5" x2="436.39" y2="830.55"/>
<line x1="521.69" y1="855.5" x2="521.69" y2="843.15"/>
<line x1="606.98" y1="855.5" x2="606.98" y2="830.55"/>
<line x1="692.28" y1="855.5" x2="692.28" y2="843.15"/>
<line x1="777.57" y1="855.5" x2="777.57" y2="830.55"/>
<line x1="862.87" y1="855.5" x2="862.87" y2="843.15"/>
<line x1="948.16" y1="855.5" x2="948.16" y2="830.55"/>
<line x1="1033.46" y1="855.5" x2="1033.46" y2="843.15"/>
<line x1="1118.75" y1="855.5" x2="1118.75" y2="830.55"/>
<line x1="1204.05" y1="855.5" x2="1204.05" y2="843.15"/>
<line x1="1289.34" y1="855.5" x2="1289.34" y2="830.55"/>
<line x1="1374.63" y1="855.5" x2="1374.63" y2="843.15"/>
<line x1="1459.93" y1="855.5" x2="1459.93" y2="830.55"/>
<line x1="1545.23" y1="855.5" x2="1545.23" y2="843.15"/>
<line x1="1630.52" y1="855.5" x2="1630.52" y2="830.55"/>
<line x1="1715.82" y1="855.5" x2="1715.82" y2="843.15"/>
<line x1="1801.11" y1="855.5" x2="1801.11" y2="830.55"/>
<line x1="1886.41" y1="855.5" x2="1886.41" y2="843.15"/>
</g>
<g id="ticklabels" font-family="'Liberation Serif', serif" font-weight="bold" font-size="58.8" fill="#000">
<text transform="translate(266.3,1747) scale(1,1.06)" text-anchor="middle">0</text>
<text transform="translate(436.89,1747) scale(1,1.06)" text-anchor="middle">100</text>
<text transform="translate(607.48,1747) scale(1,1.06)" text-anchor="middle">200</text>
<text transform="translate(778.07,1747) scale(1,1.06)" text-anchor="middle">300</text>
<text transform="translate(948.66,1747) scale(1,1.06)" text-anchor="middle">400</text>
<text transform="translate(1119.25,1747) scale(1,1.06)" text-anchor="middle">500</text>
<text transform="translate(1289.84,1747) scale(1,1.06)" text-anchor="middle">600</text>
<text transform="translate(1460.43,1747) scale(1,1.06)" text-anchor="middle">700</text>
<text transform="translate(1631.02,1747) scale(1,1.06)" text-anchor="middle">800</text>
<text transform="translate(1801.61,1747) scale(1,1.06)" text-anchor="middle">900</text>
<text transform="translate(1972.2,1747) scale(1,1.06)" text-anchor="middle">1000</text>
<text transform="translate(224.5,105.9) scale(1,1.06)" text-anchor="end">100</text>
<text transform="translate(224.5,331.55) scale(1,1.06)" text-anchor="end">95</text>
<text transform="translate(224.5,557.2) scale(1,1.06)" text-anchor="end">90</text>
<text transform="translate(224.5,782.85) scale(1,1.06)" text-anchor="end">85</text>
<text transform="translate(241.9,947.42) scale(1,1.06)" text-anchor="end">0.02</text>
<text transform="translate(241.9,1095.05) scale(1,1.06)" text-anchor="end">0.00</text>
<text transform="translate(241.9,1242.69) scale(1,1.06)" text-anchor="end">-0.02</text>
<text transform="translate(241.9,1390.33) scale(1,1.06)" text-anchor="end">-0.04</text>
<text transform="translate(241.9,1537.96) scale(1,1.06)" text-anchor="end">-0.06</text>
<text transform="translate(241.9,1685.6) scale(1,1.06)" text-anchor="end">-0.08</text>
</g>
<g id="titles" font-family="'Liberation Serif', serif" font-weight="bold" font-size="71.5" fill="#000">
<text y="1833.6" font-size="70.8"><tspan x="848.4">Temperature (</tspan><tspan x="1290.8" font-family="'Liberation Serif', 'DejaVu Serif', 'Noto Serif CJK SC', serif" font-size="64.5">℃</tspan><tspan x="1366.6">)</tspan></text>
<text transform="translate(123.8,710.4) rotate(-90)">Weight loss (wt.%)</text>
<text transform="translate(85.9,1515.1) rotate(-90)">DTG (wt.%/K)</text>
</g>
<g id="legend">
<rect x="1521.2" y="91.5" width="405.5" height="169.60000000000002" fill="#fff" stroke="#000" stroke-width="1.7"/>
<line x1="1529.2" y1="136.15" x2="1674.3" y2="136.15" stroke="#464646" stroke-width="1.7"/>
<line x1="1529.2" y1="216.5" x2="1674.3" y2="216.5" stroke="#ee3035" stroke-width="1.7"/>
<g font-family="'Liberation Serif', serif" font-size="64.7" fill="#000">
<text x="1691.7" y="158.1">WCP-0</text>
<text x="1691.7" y="238.4">WCP-20</text>
</g></g>
<g id="annotations" font-family="'Liberation Serif', serif" font-size="58.9" fill="#000">
<text x="990.3" y="1301.0" text-anchor="middle">Hydrotalcite</text>
<text x="481" y="1637.7" text-anchor="middle">C-A-S-H</text>
</g>
<g id="arrow" fill="#000" stroke="none">
<polygon points="943.1,1188.3 951.6,1220.7 934.6,1220.7"/>
<rect x="942.35" y="1220" width="1.5" height="8.2"/>
</g>
</svg>
</body>
</html>
